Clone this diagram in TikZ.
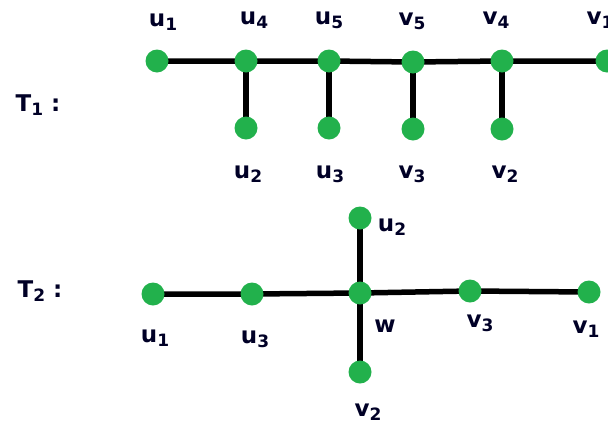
\documentclass[tikz,border=0pt]{standalone}
\usepackage{fontspec}
\setmainfont{DejaVu Sans}
\definecolor{vgreen}{HTML}{22B14C}
\newcommand{\lbl}[2]{\bfseries #1\raisebox{-0.3ex}{\fontsize{17}{17}\selectfont\bfseries #2}}
\tikzset{
  vtx/.style={circle, fill=vgreen, inner sep=0pt, minimum size=23pt},
  edge/.style={line width=5.5pt, black},
  tag/.style={font=\fontsize{23}{23}\selectfont, inner sep=0pt, text=black!85!blue},
}
\begin{document}
\begin{tikzpicture}[x=1pt, y=-1pt]
\useasboundingbox (0,0) rectangle (608,421);
% ---- first tree ----
\node[tag] (t1) at (38,105) {\lbl{T}{1} \bfseries:};
\coordinate (a1) at (157,61);
\coordinate (a4) at (246,61);
\coordinate (a5) at (329,61);
\coordinate (b5) at (413,62);
\coordinate (b4) at (502,61);
\coordinate (b1) at (607,61);
\coordinate (a2) at (246,128);
\coordinate (a3) at (329,128);
\coordinate (b3) at (413,129);
\coordinate (b2) at (502,129);
\draw[edge] (a1) -- (a4) -- (a5) -- (b5) -- (b4) -- (b1);
\draw[edge] (a4) -- (a2);
\draw[edge] (a5) -- (a3);
\draw[edge] (b5) -- (b3);
\draw[edge] (b4) -- (b2);
\foreach \n in {a1,a4,a5,b5,b4,b1,a2,a3,b3,b2} \node[vtx] (v\n) at (\n) {};
\node[tag] (la1) at (163,22) {\lbl{u}{1}};
\node[tag] (la4) at (254,20) {\lbl{u}{4}};
\node[tag] (la5) at (329,20) {\lbl{u}{5}};
\node[tag] (lb5) at (412,21) {\lbl{v}{5}};
\node[tag] (lb4) at (496,20) {\lbl{v}{4}};
\node[tag] (lb1) at (600,20) {\lbl{v}{1}};
\node[tag] (la2) at (248,174) {\lbl{u}{2}};
\node[tag] (la3) at (330,174) {\lbl{u}{3}};
\node[tag] (lb3) at (412,174) {\lbl{v}{3}};
\node[tag] (lb2) at (505,174) {\lbl{v}{2}};
% ---- second tree ----
\node[tag] (t2) at (40,291) {\lbl{T}{2} \bfseries:};
\coordinate (c1) at (153,294);
\coordinate (c3) at (252,294);
\coordinate (w) at (360,293);
\coordinate (d3) at (470,291);
\coordinate (d1) at (589,292);
\coordinate (c2) at (360,218);
\coordinate (d2) at (360,372);
\draw[edge] (c1) -- (c3) -- (w) -- (d3) -- (d1);
\draw[edge] (c2) -- (w) -- (d2);
\node[vtx] (n1) at (c1) {};
\node[vtx] (n3) at (c3) {};
\node[vtx] (nw) at (w) {};
\node[vtx] (m3) at (d3) {};
\node[vtx] (m1) at (d1) {};
\node[vtx] (n2) at (c2) {};
\node[vtx] (m2) at (d2) {};
\node[tag] (lc1) at (155,338) {\lbl{u}{1}};
\node[tag] (lc3) at (255,339) {\lbl{u}{3}};
\node[tag] (lw) at (385,326) {\bfseries w};
\node[tag] (ld3) at (480,323) {\lbl{v}{3}};
\node[tag] (ld1) at (586,329) {\lbl{v}{1}};
\node[tag] (lc2) at (392,227) {\lbl{u}{2}};
\node[tag] (ld2) at (368,412) {\lbl{v}{2}};
\end{tikzpicture}
\end{document}
